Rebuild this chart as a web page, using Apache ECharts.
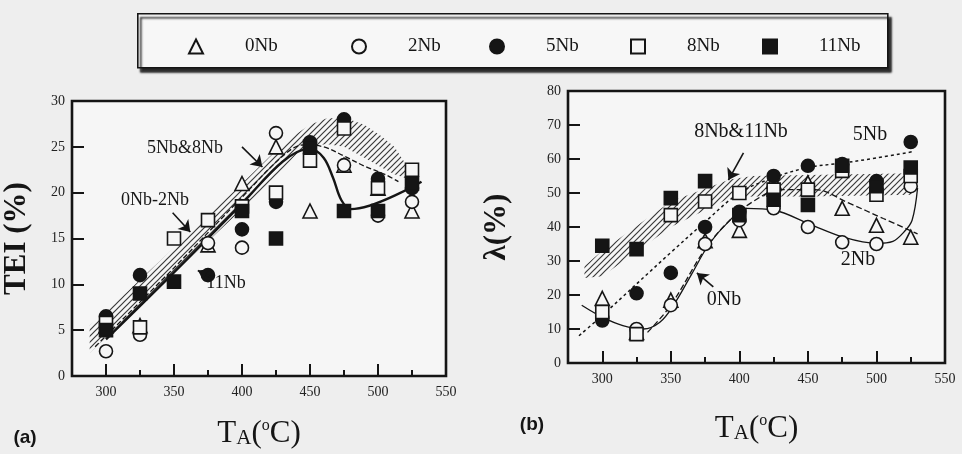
<!DOCTYPE html>
<html><head><meta charset="utf-8">
<script src="https://cdn.jsdelivr.net/npm/echarts@6/dist/echarts.min.js"></script>
<style>html,body{margin:0;padding:0;background:#eeeeee}#c{width:962px;height:454px}</style>
</head><body><div id="c"></div>
<script>
// ---------- data ----------
const temps = [300, 325, 350, 375, 400, 425, 450, 475, 500, 525];
const xTickLabels = [300, 350, 400, 450, 500, 550];
const xMajorTicks = [300, 350, 400, 450, 500];
const xMinorTicks = [325, 375, 425, 475, 525];
const names = ['0Nb', '2Nb', '5Nb', '8Nb', '11Nb'];

// (a) TEI (%)
const tei0Nb  = [5.5, 5.5, null, 14.3, 21, 25, 18, 23, 20.5, 18];
const tei2Nb  = [2.7, 4.5, null, 14.5, 14, 26.5, null, 23, 17.5, 19];
const tei5Nb  = [6.5, 11, null, 11, 16, 19, 25.5, 28, 21.5, 20.5];
const tei8Nb  = [5.8, 5.3, 15, 17, 18.5, 20, 23.5, 27, 20.5, 22.5];
const tei11Nb = [5, 9, 10.3, null, 18, 15, 25, 18, 18, 21];

// (b) lambda (%)
const lam0Nb  = [19, 9, 18.5, 36, 39, 53.5, 53, 45.5, 40.5, 37];
const lam2Nb  = [13.5, 10, 17, 35, 42, 45.5, 40, 35.5, 35, 52];
const lam5Nb  = [12.5, 20.5, 26.5, 40, 44.5, 55, 58, 58.5, 53.5, 65];
const lam8Nb  = [15, 8.5, 43.5, 47.5, 50, 51, 51, 56.5, 49.5, 55];
const lam11Nb = [34.5, 33.5, 48.5, 53.5, 43.5, 48, 46.5, 58, 52, 57.5];

// trend curves (x, y)
const fitA11Nb = [[300,4],[350,11.3],[400,18.8],[430,23.4],[450,24.8],[460,23.8],[467,21.6],[473,19.2],[480,18.2],[532,21.2]];
const fitA0Nb2Nb = [[292,3.2],[350,11.8],[400,19.5],[430,24],[445,25.2],[460,25],[475,24],[490,22.9],[505,22],[515,21.2]];
const fitB5Nb = [[283,8],[300,14],[350,32.5],[375,41.5],[400,50],[425,54.5],[450,57.5],[475,58.8],[500,60.3],[527,62.2]];
const fitB0Nb = [[333,9],[350,17],[375,33.5],[393,42],[410,47.5],[430,51],[455,51],[480,47],[505,42.5],[530,38]];
const fitB2Nb = [[285,17],[300,13.5],[315,11],[330,10],[342,12],[352,17],[365,26],[378,35],[392,41.5],[405,45.5],[425,45],[452,40.7],[476,37],[500,35.2],[512,35.8],[520,38.5],[526,42],[530,51.5]];

// hatched bands (x, lower, upper)
const bandA5Nb8Nb = [[288,2.5,5.5],[300,4.2,7],[350,11.2,14],[400,18.2,21],[425,21.8,24.6],[440,24.2,26.4],[450,25,27.4],[462,25.3,28.1],[475,25,28.2],[490,23.8,27.4],[502,22.8,26.2],[512,22,25],[520,21.6,23.2],[527,21.3,21.8]];
const bandB8Nb11Nb = [[287,25,28.5],[300,25.5,33],[350,40,47.5],[393,48.5,54],[410,49,55],[450,49,55.3],[527,49.5,55.8]];

// annotation arrows (from, to) in data coords
const arrowsA = [[[400,25],[415,22.8]], [[349,17.8],[362,15.7]], [[377,10.8],[367.5,11.5]]];
const arrowsB = [[[403,61.8],[392,53.8]], [[381,22.4],[369,26.5]]];

// ---------- styling ----------
const SERIF = '"Liberation Serif","DejaVu Serif",serif';
const INK = '#151515';
const PAPER = '#f6f6f6';
const markerStyle = {
  '0Nb':  {symbol:'triangle', size:14, fill:PAPER},
  '2Nb':  {symbol:'circle',   size:13, fill:PAPER},
  '5Nb':  {symbol:'circle',   size:13, fill:INK},
  '8Nb':  {symbol:'rect',     size:13, fill:PAPER},
  '11Nb': {symbol:'rect',     size:13, fill:INK}
};

function hatchCanvas(){
  const c = document.createElement('canvas');
  c.width = 6; c.height = 6;
  const g = c.getContext('2d');
  g.strokeStyle = '#3a3a3a'; g.lineWidth = 1.2;
  g.beginPath();
  g.moveTo(0,6); g.lineTo(6,0);
  g.moveTo(-1,1); g.lineTo(1,-1);
  g.moveTo(5,7); g.lineTo(7,5);
  g.stroke();
  return c;
}
const hatch = hatchCanvas();

function bandSeries(band, gi){
  return {
    type:'custom', xAxisIndex: gi*2, yAxisIndex: gi, silent:true, z:1,
    data: band,
    encode:{x:0, y:[1,2]},
    renderItem: function(params, api){
      if (params.dataIndex !== 0) return null;
      const up = band.map(r => api.coord([r[0], r[2]]));
      const lo = band.map(r => api.coord([r[0], r[1]])).reverse();
      return {type:'polygon', shape:{points: up.concat(lo)},
        style:{fill:{image: hatch, repeat:'repeat'}, stroke:null}};
    }
  };
}

function lineSeries(pts, gi, type, width, arrows){
  const s = {
    type:'line', xAxisIndex: gi*2, yAxisIndex: gi, data: pts, smooth:0.35,
    symbol:'none', silent:true, z:2,
    lineStyle:{color:INK, width: width, type: type}
  };
  if (arrows){
    s.markLine = {silent:true, symbol:['none','arrow'], symbolSize:11,
      label:{show:false}, lineStyle:{color:INK, width:1.6, type:'solid'},
      data: arrows.map(a => [{coord:a[0]}, {coord:a[1]}])};
  }
  return s;
}

function scatterSeries(name, vals, gi){
  const m = markerStyle[name];
  return {
    type:'scatter', name: name, xAxisIndex: gi*2, yAxisIndex: gi, z:3,
    data: temps.map((t,i) => [t, vals[i]]).filter(p => p[1] !== null),
    symbol: m.symbol, symbolSize: m.size,
    itemStyle:{color:m.fill, borderColor:INK, borderWidth:1.6, opacity:1}
  };
}

function xAxes(gi, gap, nameTxt){
  return [
    {type:'value', gridIndex:gi, min:275, max:550, position:'bottom',
     name: nameTxt, nameLocation:'middle', nameGap: gap,
     nameTextStyle:{color:INK, rich:{
       t:{fontFamily:SERIF, fontSize:31, color:INK},
       a:{fontFamily:SERIF, fontSize:21, color:INK, verticalAlign:'bottom'},
       p:{fontFamily:SERIF, fontSize:31, color:INK},
       s:{fontFamily:SERIF, fontSize:16, color:INK, verticalAlign:'top'}
     }},
     axisLine:{show:false}, splitLine:{show:false},
     axisTick:{show:true, inside:true, length:12, customValues:xMajorTicks, lineStyle:{color:INK, width:2}},
     axisLabel:{customValues:xTickLabels, fontFamily:SERIF, fontSize:14, color:'#222', margin:9}},
    {type:'value', gridIndex:gi, min:275, max:550, position:'bottom', offset:0,
     axisLine:{show:false}, splitLine:{show:false},
     axisTick:{show:true, inside:true, length:6, customValues:xMinorTicks, lineStyle:{color:INK, width:2}},
     axisLabel:{show:false}}
  ];
}

function yAxis(gi, max, interval, name, gap){
  return {type:'value', gridIndex:gi, min:0, max:max, interval:interval,
    name:name, nameLocation:'middle', nameGap:gap, nameRotate:90,
    nameTextStyle:{fontFamily:SERIF, fontSize:31, fontWeight:'bold', color:INK},
    axisLine:{show:false}, splitLine:{show:false},
    axisTick:{show:true, inside:true, length:12, lineStyle:{color:INK, width:2}},
    axisLabel:{fontFamily:SERIF, fontSize:14, color:'#222', margin:7}};
}

const legendLefts = [183, 346, 484, 625, 757];
const legends = names.map((n,i) => ({
  data:[n], left: legendLefts[i], top: 32, itemWidth:14, itemHeight:14,
  selectedMode:false,
  textStyle:{fontFamily:SERIF, fontSize:19, color:INK, padding:[0,0,0,37]}
}));

function txt(x, y, s, size){
  return {type:'text', x:x, y:y, silent:true, z:10,
    style:{text:s, fontFamily:SERIF, fontSize:size, fill:INK, align:'center', verticalAlign:'middle'}};
}

const option = {
  backgroundColor:'#eeeeee',
  animation:false,
  legend: legends,
  grid:[
    {left:68, top:101, width:378, height:281, show:true, backgroundColor:PAPER, borderColor:INK, borderWidth:2.6},
    {left:568, top:91, width:377, height:272, show:true, backgroundColor:PAPER, borderColor:INK, borderWidth:2.6}
  ],
  xAxis: xAxes(0, 42, '{t|T}{a|A}{p|(}{s|o}{p|C)}').concat(xAxes(1, 50, '{t|T}{a|A}{p|(}{s|o}{p|C)}')),
  yAxis:[ yAxis(0, 30, 5, 'TEI (%)', 40), yAxis(1, 80, 10, 'λ(%)', 56) ],
  graphic:[
    {type:'rect', left:137, top:13, shape:{width:750, height:54}, silent:true, z:0,
     style:{fill:'#f7f7f7', stroke:INK, lineWidth:1.6, shadowColor:'rgba(20,20,20,0.9)', shadowOffsetX:3, shadowOffsetY:4, shadowBlur:2}},
    txt(185, 148, '5Nb&8Nb', 18),
    txt(155, 200, '0Nb-2Nb', 18),
    txt(226, 283, '11Nb', 18),
    txt(741, 132, '8Nb&11Nb', 20),
    txt(870, 135, '5Nb', 20),
    txt(858, 260, '2Nb', 20),
    txt(724, 300, '0Nb', 20),
    {type:'text', x:25, y:438, silent:true, style:{text:'(a)', fontFamily:'"Liberation Sans",Arial,sans-serif', fontSize:19, fontWeight:'bold', fill:INK, align:'center', verticalAlign:'middle'}},
    {type:'text', x:532, y:425, silent:true, style:{text:'(b)', fontFamily:'"Liberation Sans",Arial,sans-serif', fontSize:19, fontWeight:'bold', fill:INK, align:'center', verticalAlign:'middle'}}
  ],
  series:[
    bandSeries(bandA5Nb8Nb, 0),
    bandSeries(bandB8Nb11Nb, 1),
    lineSeries(fitA11Nb, 0, 'solid', 2.4, arrowsA),
    lineSeries(fitA0Nb2Nb, 0, 'dashed', 1.3),
    lineSeries(fitB5Nb, 1, [3,3], 1.5, arrowsB),
    lineSeries(fitB0Nb, 1, [6,3], 1.3),
    lineSeries(fitB2Nb, 1, 'solid', 1.3),
    scatterSeries('0Nb', tei0Nb, 0),
    scatterSeries('2Nb', tei2Nb, 0),
    scatterSeries('5Nb', tei5Nb, 0),
    scatterSeries('8Nb', tei8Nb, 0),
    scatterSeries('11Nb', tei11Nb, 0),
    scatterSeries('0Nb', lam0Nb, 1),
    scatterSeries('2Nb', lam2Nb, 1),
    scatterSeries('5Nb', lam5Nb, 1),
    scatterSeries('8Nb', lam8Nb, 1),
    scatterSeries('11Nb', lam11Nb, 1)
  ]
};
const chart = echarts.init(document.getElementById('c'), null, {renderer:'canvas'});
chart.setOption(option);
</script></body></html>
